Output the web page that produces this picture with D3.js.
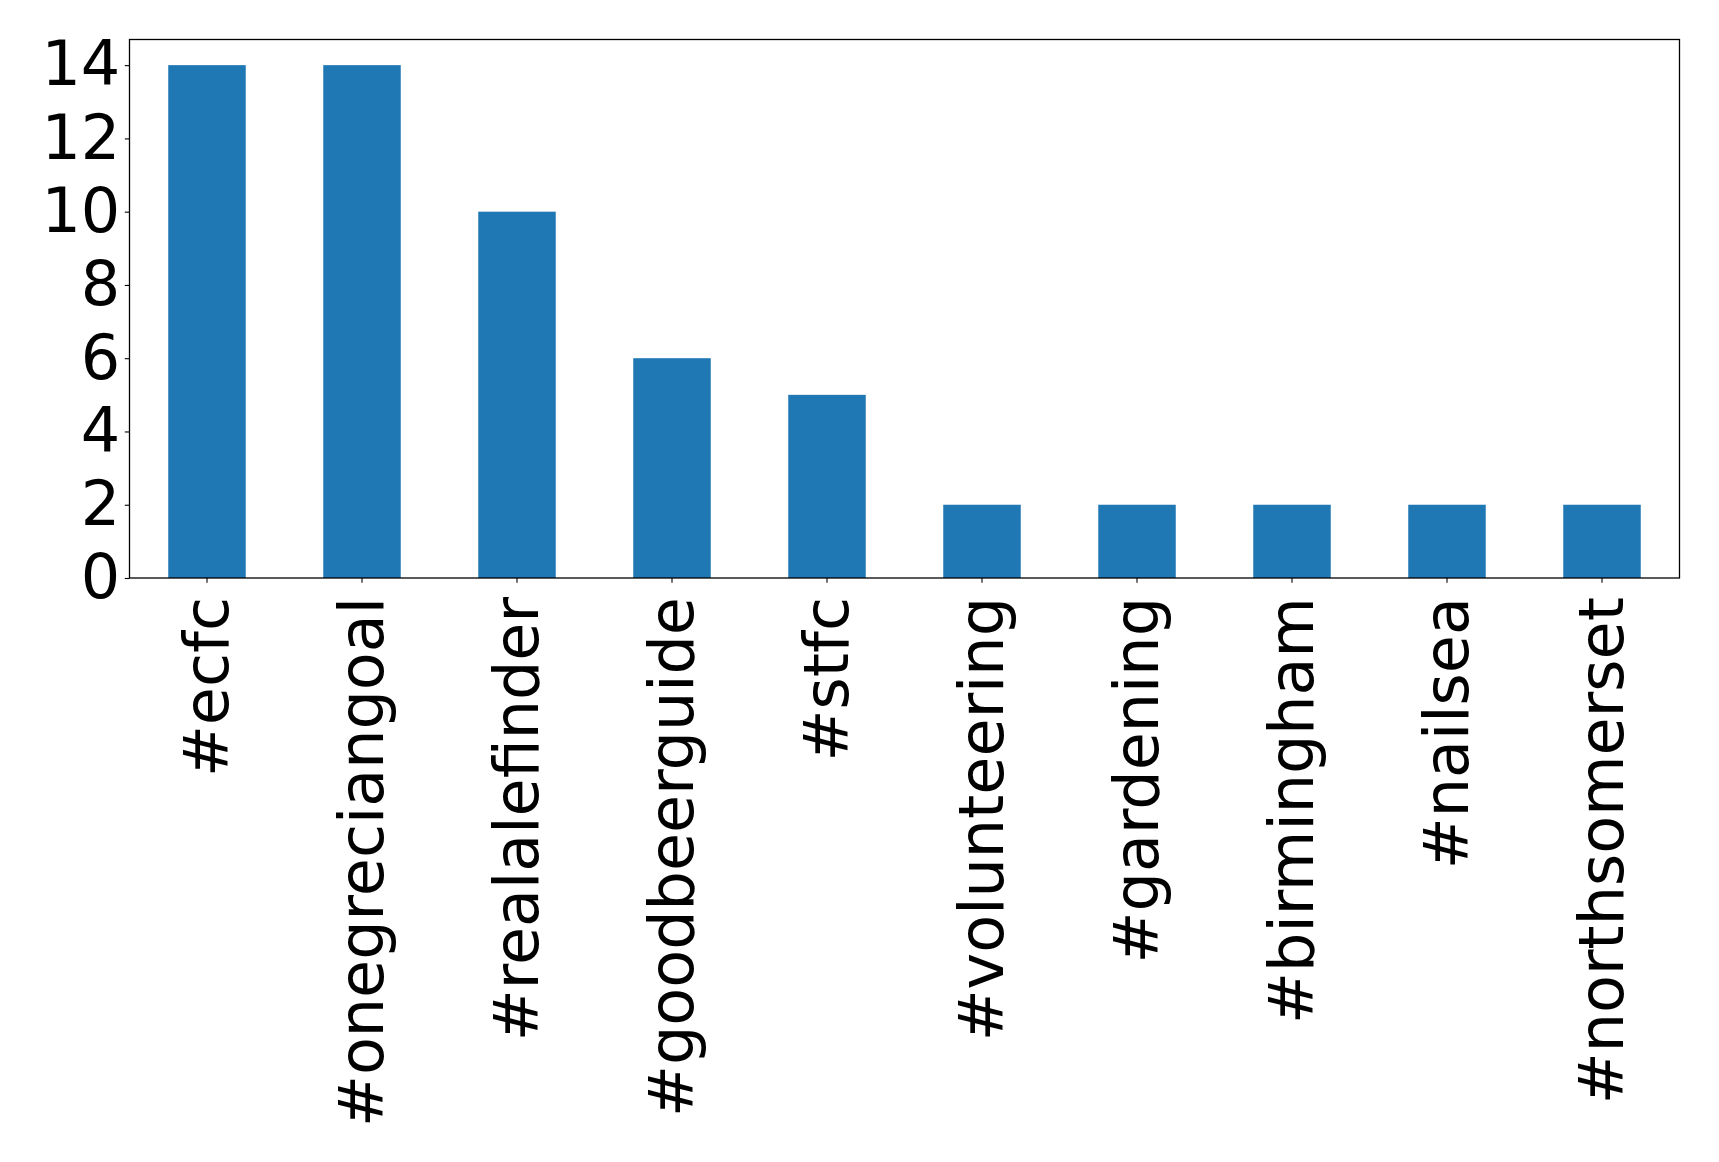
<!DOCTYPE html>
<html>
<head>
<meta charset="utf-8">
<script src="https://cdn.jsdelivr.net/npm/d3@7"></script>
<style>
  html, body { margin: 0; padding: 0; background: #fff; }
  svg { display: block; }
  text { font-family: "DejaVu Sans", sans-serif; fill: #000; }
</style>
</head>
<body>
<script>
const categories = ["#ecfc", "#onegreciangoal", "#realalefinder", "#goodbeerguide", "#stfc",
                    "#volunteering", "#gardening", "#birmingham", "#nailsea", "#northsomerset"];
const values = [14, 14, 10, 6, 5, 2, 2, 2, 2, 2];
const yTicks = [0, 2, 4, 6, 8, 10, 12, 14];

const W = 1719, H = 1162;
const mLeft = 129.5, mRight = 1679.5, mTop = 39.5, mBottom = 578;
const fontSize = 62;

const svg = d3.select("body").append("svg").attr("width", W).attr("height", H);

const x = d3.scaleBand().domain(categories).range([mLeft, mRight]).paddingInner(0.5).paddingOuter(0.25);
const y = d3.scaleLinear().domain([0, 14.7]).range([mBottom, mTop]);

svg.append("g").selectAll("rect").data(categories).join("rect")
  .attr("x", d => x(d))
  .attr("width", x.bandwidth())
  .attr("y", (d, i) => y(values[i]))
  .attr("height", (d, i) => y(0) - y(values[i]))
  .attr("fill", "#1f77b4");

// frame
svg.append("rect").attr("x", mLeft).attr("y", mTop).attr("width", mRight - mLeft).attr("height", mBottom - mTop)
  .attr("fill", "none").attr("stroke", "#000").attr("stroke-width", 1.3);

// y axis
const yAxis = d3.axisLeft(y).tickValues(yTicks).tickSize(4.7).tickPadding(4.5).tickFormat(d3.format("d"));
const gy = svg.append("g").attr("transform", `translate(${mLeft},0)`).call(yAxis);
gy.select(".domain").remove();
gy.selectAll("line").attr("stroke", "#000").attr("stroke-width", 1.1);
gy.selectAll("text").style("font-size", fontSize + "px").style("font-family", "DejaVu Sans").attr("fill", "#000");

// x axis
const xAxis = d3.axisBottom(x).tickSize(4.7).tickFormat("");
const gx = svg.append("g").attr("transform", `translate(0,${mBottom})`).call(xAxis);
gx.select(".domain").remove();
gx.selectAll("line").attr("stroke", "#000").attr("stroke-width", 1.1);

svg.append("g").selectAll("text").data(categories).join("text")
  .attr("transform", d => `translate(${x(d) + x.bandwidth() / 2},${mBottom + 19}) rotate(-90)`)
  .attr("text-anchor", "end")
  .attr("dy", "0.34em")
  .style("font-size", fontSize + "px")
  .text(d => d);
</script>
</body>
</html>
